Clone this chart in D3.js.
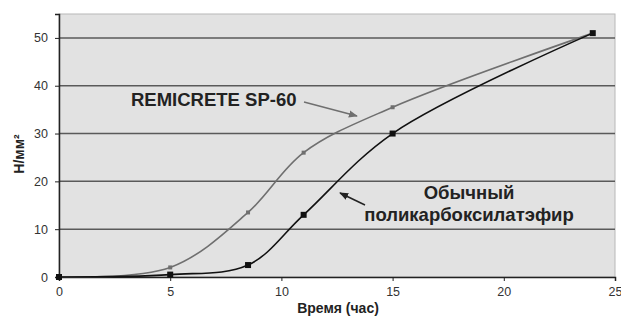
<!DOCTYPE html>
<html>
<head>
<meta charset="utf-8">
<script src="https://cdn.jsdelivr.net/npm/d3@7"></script>
<style>
  body { margin: 0; background: #fff; }
  text { font-family: "Liberation Sans", Arial, sans-serif; }
</style>
</head>
<body>
<div id="chart"></div>
<script>
// Data
const hours = [0, 5, 8.5, 11, 15, 24];
const remicrete = [0, 2, 13.5, 26, 35.5, 51];
const ordinary = [0, 0.5, 2.5, 13, 30, 51];
const xTicks = [0, 5, 10, 15, 20, 25];
const yTicks = [0, 10, 20, 30, 40, 50];

const W = 621, H = 318;
const m = { left: 59, right: 6, top: 14, bottom: 41 };

const svg = d3.select('#chart').append('svg')
    .attr('width', W).attr('height', H);

const x = d3.scaleLinear().domain([0, 25]).range([m.left, W - m.right]);
const y = d3.scaleLinear().domain([0, 55]).range([H - m.bottom, m.top]);

// plot background
svg.append('rect')
    .attr('x', x(0)).attr('y', y(55))
    .attr('width', x(25) - x(0)).attr('height', y(0) - y(55))
    .attr('fill', '#e2e2e2')
    .attr('stroke', '#b8b8b8').attr('stroke-width', 1);

// grid
svg.append('g').selectAll('line')
    .data(yTicks.filter(d => d > 0))
    .join('line')
    .attr('x1', x(0)).attr('x2', x(25))
    .attr('y1', d => y(d)).attr('y2', d => y(d))
    .attr('stroke', '#5a5a5a').attr('stroke-width', 1.5);

// axes
const xAxis = svg.append('g')
    .attr('transform', `translate(0,${y(0)})`)
    .call(d3.axisBottom(x).tickValues(xTicks).tickSize(4).tickPadding(6));
const yAxis = svg.append('g')
    .attr('transform', `translate(${x(0)},0)`)
    .call(d3.axisLeft(y).tickValues(yTicks).tickSize(4).tickPadding(7));

[xAxis, yAxis].forEach(g => {
  g.select('.domain').attr('stroke', '#222').attr('stroke-width', 1.5);
  g.selectAll('.tick line').attr('stroke', '#222');
  g.selectAll('.tick text')
      .attr('fill', '#333').attr('font-size', 12.5)
      .attr('font-family', '"Liberation Sans", Arial, sans-serif');
});

// axis titles
svg.append('text')
    .attr('x', 338).attr('y', 313)
    .attr('text-anchor', 'middle')
    .attr('font-size', 14).attr('font-weight', 'bold').attr('fill', '#222')
    .text('Время (час)');
svg.append('text')
    .attr('transform', `translate(24,154) rotate(-90)`)
    .attr('text-anchor', 'middle')
    .attr('font-size', 14).attr('font-weight', 'bold').attr('fill', '#222')
    .text('Н/мм²');

// lines
const line = d3.line()
    .x(d => x(d[0])).y(d => y(d[1]))
    .curve(d3.curveCatmullRom.alpha(0.5));

const series = [
  { values: remicrete, color: '#6f6f6f', marker: 4 },
  { values: ordinary, color: '#111', marker: 6 }
];

series.forEach(s => {
  const pts = hours.map((h, i) => [h, s.values[i]]);
  svg.append('path')
      .attr('d', line(pts))
      .attr('fill', 'none')
      .attr('stroke', s.color).attr('stroke-width', 1.6);
  svg.append('g').selectAll('rect')
      .data(pts)
      .join('rect')
      .attr('x', d => x(d[0]) - s.marker / 2)
      .attr('y', d => y(d[1]) - s.marker / 2)
      .attr('width', s.marker).attr('height', s.marker)
      .attr('fill', s.color);
});

// annotations
const defs = svg.append('defs');
[['arrGray', '#6f6f6f'], ['arrBlack', '#222']].forEach(([id, c]) => {
  defs.append('marker')
      .attr('id', id).attr('viewBox', '0 0 10 10')
      .attr('refX', 9).attr('refY', 5)
      .attr('markerWidth', 6).attr('markerHeight', 6)
      .attr('orient', 'auto')
    .append('path').attr('d', 'M0,1 L10,5 L0,9 z').attr('fill', c);
});

svg.append('text')
    .attr('x', 131).attr('y', 106)
    .attr('font-size', 18.5).attr('font-weight', 'bold').attr('fill', '#222')
    .text('REMICRETE SP-60');
svg.append('line')
    .attr('x1', 304).attr('y1', 102).attr('x2', 357).attr('y2', 116)
    .attr('stroke', '#6f6f6f').attr('stroke-width', 1.5)
    .attr('marker-end', 'url(#arrGray)');

svg.append('text')
    .attr('x', 469).attr('y', 199)
    .attr('text-anchor', 'middle')
    .attr('font-size', 18.5).attr('font-weight', 'bold').attr('fill', '#222')
    .text('Обычный');
svg.append('text')
    .attr('x', 469).attr('y', 221)
    .attr('text-anchor', 'middle')
    .attr('font-size', 18.5).attr('font-weight', 'bold').attr('fill', '#222')
    .text('поликарбоксилатэфир');
svg.append('line')
    .attr('x1', 365).attr('y1', 205).attr('x2', 340).attr('y2', 193)
    .attr('stroke', '#222').attr('stroke-width', 1.5)
    .attr('marker-end', 'url(#arrBlack)');
</script>
</body>
</html>
